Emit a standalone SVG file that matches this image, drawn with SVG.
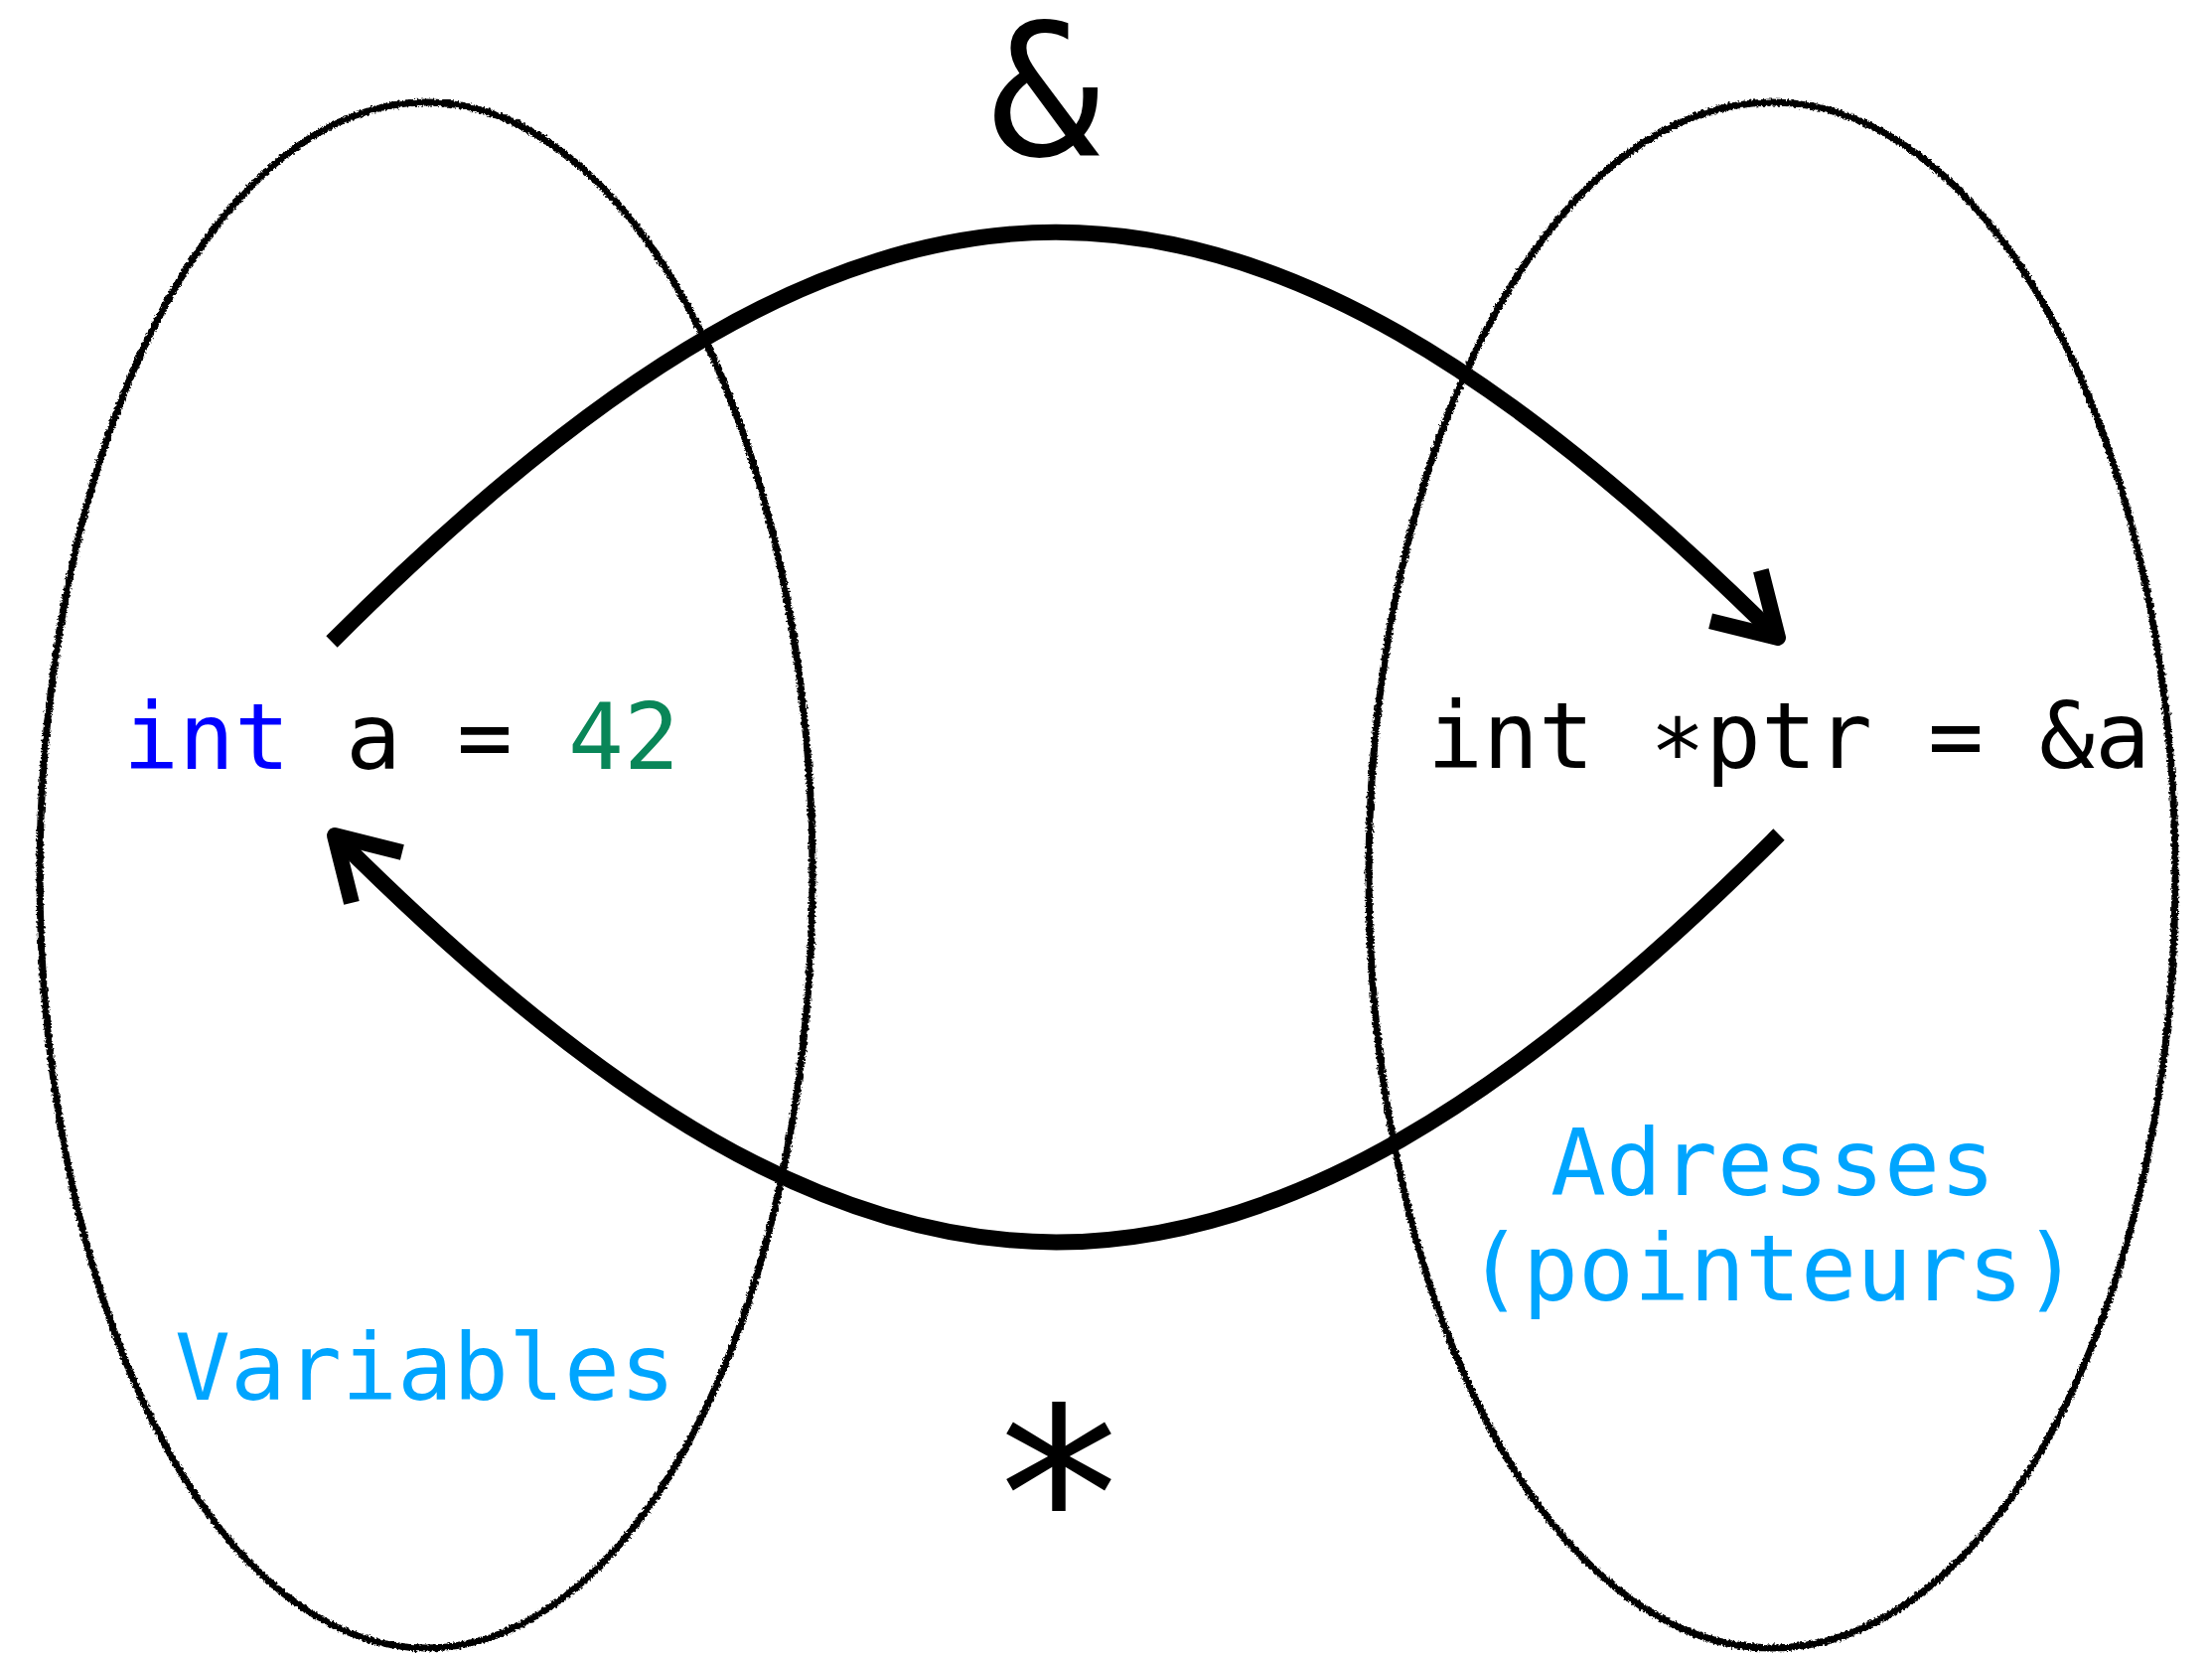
<svg xmlns="http://www.w3.org/2000/svg" width="2227" height="1665" viewBox="0 0 2227 1665">
<style>
.mono{font-family:"DejaVu Sans Mono","Liberation Mono",monospace;}
.code{font-size:93px;}
.label{font-size:93px;fill:#00A5FF;}
.set{fill:none;stroke:#000;stroke-width:7;filter:url(#rough);}
.conn{fill:none;stroke:#000;stroke-width:16;}
</style>
<defs>
<filter id="rough" x="-5%" y="-5%" width="110%" height="110%">
<feTurbulence type="fractalNoise" baseFrequency="0.4" numOctaves="2" seed="3" result="n"/>
<feDisplacementMap in="SourceGraphic" in2="n" scale="5" xChannelSelector="R" yChannelSelector="G"/>
</filter>
<marker id="head" markerUnits="userSpaceOnUse" orient="auto" refX="0" refY="0" markerWidth="10" markerHeight="10" style="overflow:visible">
<path d="M -60,-36 L 0,0 L -60,36" fill="none" stroke="#000" stroke-width="16" stroke-linejoin="round" stroke-linecap="butt"/>
</marker>
</defs>
<rect width="2227" height="1665" fill="#fff"/>
<g id="variables">
<ellipse class="set" cx="429" cy="881" rx="389" ry="778"/>
<text class="mono code" x="124" y="774"><tspan fill="#0000FF">int</tspan><tspan fill="#000"> a = </tspan><tspan fill="#098658">42</tspan></text>
<text class="mono label" x="428" y="1409" text-anchor="middle">Variables</text>
</g>
<g id="adresses">
<ellipse class="set" cx="1784" cy="881" rx="406" ry="778"/>
<text class="mono code" x="1437" y="773" fill="#000">int <tspan dy="17">*</tspan><tspan dy="-17">ptr = &amp;a</tspan></text>
<text class="mono label" x="1785" y="1203" text-anchor="middle">Adresses</text>
<text class="mono label" x="1785" y="1309" text-anchor="middle">(pointeurs)</text>
</g>
<g id="connectors">
<path class="conn" d="M 334 646 C 883 97 1242 97 1790 642" marker-end="url(#head)"/>
<text class="mono" x="1052" y="156" font-size="186" text-anchor="middle" fill="#000">&amp;</text>
<path class="conn" d="M 1791 840 C 1244 1387 883 1387 337 841" marker-end="url(#head)"/>
<text class="mono" x="1066" y="1590" font-size="240" text-anchor="middle" fill="#000">*</text>
</g>
</svg>
